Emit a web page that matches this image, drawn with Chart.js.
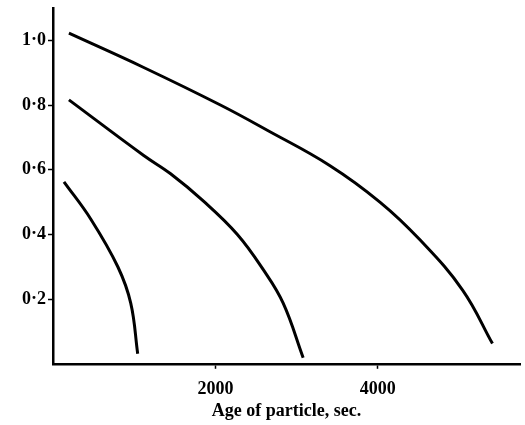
<!DOCTYPE html>
<html>
<head>
<meta charset="utf-8">
<script src="https://cdn.jsdelivr.net/npm/chart.js@4"></script>
<style>
  html, body { margin: 0; padding: 0; background: #fff; }
  #wrap { width: 525px; height: 425px; }
</style>
</head>
<body>
<div id="wrap"><canvas id="chart"></canvas></div>
<script>
"use strict"

// values (age in sec, value)
const curve1Age = [196, 1117, 2061, 2638, 3411, 4025, 4515, 5043, 5411]
const curve1Val = [1.022, 0.916, 0.80, 0.722, 0.6125, 0.50, 0.384, 0.228, 0.0625]
const curve2Age = [196, 1117, 1448, 1853, 2270, 2589, 2834, 3080]
const curve2Val = [0.816, 0.644, 0.5875, 0.503, 0.40, 0.291, 0.1875, 0.019]
const curve3Age = [135, 466, 798, 957, 1043]
const curve3Val = [0.5625, 0.447, 0.30, 0.1875, 0.031]

const xTicks = [2000, 4000]
const yTicks = [0.2, 0.4, 0.6, 0.8, 1.0]

function toPoints(xs, ys){
    let pts = []
    for (let i = 0; i < xs.length; i++){
        pts.push({x: xs[i], y: ys[i]})
    }
    return pts
}

function lineSet(xs, ys){
    return {
        data: toPoints(xs, ys),
        showLine: true,
        borderColor: "#000",
        borderWidth: 3,
        pointRadius: 0,
        tension: 0.4,
        fill: false,
    }
}

const serif = "'Liberation Serif', 'DejaVu Serif', serif"

const config = {
    type: "scatter",
    data: {
        datasets: [
            lineSet(curve1Age, curve1Val),
            lineSet(curve2Age, curve2Val),
            lineSet(curve3Age, curve3Val),
        ]
    },
    options: {
        responsive: true,
        maintainAspectRatio: false,
        animation: false,
        layout: { padding: { top: 0, right: 5, left: 20, bottom: 3 } },
        plugins: { legend: { display: false }, tooltip: { enabled: false } },
        scales: {
            x: {
                type: "linear",
                min: 0,
                max: 5750,
                afterBuildTicks: (axis) => { axis.ticks = xTicks.map(v => ({value: v})) },
                grid: { drawOnChartArea: false, tickLength: 5, tickColor: "#000", tickWidth: 1.5 },
                border: { display: true, color: "#000", width: 2.5 },
                ticks: {
                    color: "#000",
                    padding: 10,
                    maxRotation: 0,
                    font: { family: serif, size: 18, weight: "bold" },
                    callback: (v) => String(v)
                },
                title: {
                    display: true,
                    text: "Age of particle, sec.",
                    color: "#000",
                    padding: { top: -10, bottom: 0 },
                    font: { family: serif, size: 18, weight: "bold" }
                }
            },
            y: {
                type: "linear",
                min: 0,
                max: 1.1,
                afterBuildTicks: (axis) => { axis.ticks = yTicks.map(v => ({value: v})) },
                // top label isn't at the axis end, so less room is needed up there
                afterFit: (axis) => { axis.paddingTop = 8 },
                grid: { drawOnChartArea: false, tickLength: 5, tickColor: "#000", tickWidth: 1.5 },
                border: { display: true, color: "#000", width: 2.5 },
                ticks: {
                    color: "#000",
                    padding: 2,
                    font: { family: serif, size: 18, weight: "bold" },
                    callback: (v) => v.toFixed(1).replace(".", "·")
                }
            }
        }
    }
}

new Chart(document.getElementById("chart"), config)
</script>
</body>
</html>
